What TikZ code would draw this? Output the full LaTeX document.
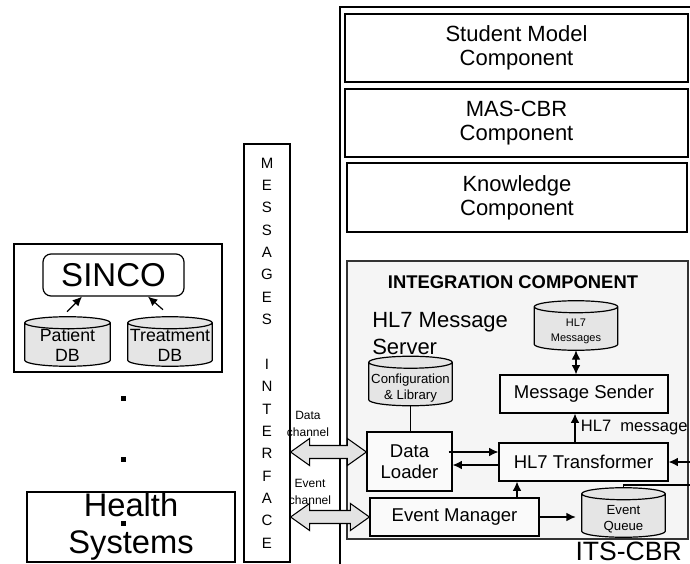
\documentclass[tikz,border=0pt]{standalone}
\usepackage{fontspec}
\setmainfont{Liberation Sans}
\usetikzlibrary{positioning, calc, arrows.meta}

\newcommand{\setfs}[2]{\fontsize{#1}{#2}\selectfont}
% block arrow with two heads between two named points
\newcommand{\chanarrow}[2]{%
  \draw[chanfill] (#1) -- ++(19,-13.5) -- ++(0,7) -- ($(#2)+(-19,-6.5)$) -- ++(0,-7)
    -- (#2) -- ++(-19,13.5) -- ++(0,-7) -- ($(#1)+(19,6.5)$) -- ++(0,7) -- cycle;}
% database drum drawn into the frame of a named node
\newcommand{\dbdraw}[1]{%
  \draw[dbfill] let \p1=($(#1.east)-(#1.west)$) in
     ([yshift=-4.5pt]#1.north west) -- ([yshift=4.5pt]#1.south west)
     arc[start angle=180, end angle=360, x radius=0.5*\x1, y radius=4.5pt]
     -- ([yshift=-4.5pt]#1.north east)
     arc[start angle=0, end angle=180, x radius=0.5*\x1, y radius=4.5pt] -- cycle
     ([yshift=-4.5pt]#1.north west)
     arc[start angle=180, end angle=360, x radius=0.5*\x1, y radius=4.5pt];}

\begin{document}
\begin{tikzpicture}[x=0.75pt, y=-0.75pt,
    plainbox/.style={draw, line width=0.9pt, inner sep=0pt, align=center},
    compbox/.style={plainbox, minimum width=257.25pt, minimum height=51pt, font=\setfs{16.5pt}{18pt}},
    unitbox/.style={plainbox, fill=gray!4, font=\setfs{13.9pt}{15.75pt}},
    dbframe/.style={inner sep=0pt, minimum width=62.25pt, minimum height=36.75pt},
    dbfill/.style={draw, line width=0.9pt, fill=gray!20},
    dbsmall/.style={align=center, inner sep=0pt, font=\setfs{8.25pt}{11.25pt}},
    dbmid/.style={align=center, inner sep=0pt, font=\setfs{9.9pt}{12pt}},
    dbbig/.style={align=center, inner sep=0pt, font=\setfs{13.3pt}{15pt}},
    flowarrow/.style={line width=0.9pt, -{Latex[length=7pt, width=6.5pt]}},
    twoway/.style={line width=0.9pt, {Latex[length=7pt, width=6.5pt]}-{Latex[length=7pt, width=6.5pt]}},
    chanfill/.style={draw, line width=0.8pt, fill=gray!22},
    chanlabel/.style={align=center, inner sep=0pt, font=\setfs{9pt}{12.75pt}},
    dotmark/.style={fill=black, inner sep=0pt, minimum size=3.75pt}]

    \useasboundingbox (0,0) rectangle (690,564);
    \clip (0,0) rectangle (690,564);

    % ITS-CBR frame and its components
    \node[plainbox, minimum width=270pt, minimum height=429.75pt] (its) at (520,293.5) {};
    \node[compbox] (student) at (516.5,48) {Student Model\\Component};
    \node[compbox] (mascbr) at (516.5,123) {MAS-CBR\\Component};
    \node[compbox, minimum width=255pt, minimum height=51.75pt] (knowledge) at (517,197.5) {Knowledge\\Component};
    \node[anchor=base east, inner sep=0pt, font=\setfs{19.9pt}{22pt}] (itslabel) at (682,560) {ITS-CBR};

    % Integration component
    \node[plainbox, draw=black!80, fill=gray!8, minimum width=255.75pt, minimum height=208.5pt] (integ) at (517.5,400) {};
    \node[inner sep=0pt, font=\bfseries\setfs{13.8pt}{16pt}] (integtitle) at (513,282) {INTEGRATION COMPONENT};
    \node[anchor=west, align=left, inner sep=0pt, font=\setfs{16.5pt}{20.25pt}] (server) at (372,333.5) {HL7 Message\\Server};

    \node[dbframe] (hl7db) at (576,325.5) {};
    \dbdraw{hl7db}
    \node[dbsmall] (hl7dbtxt) at ([yshift=-4.5pt]hl7db.center) {HL7\\Messages};
    \node[dbframe] (cfgdb) at (410.5,381) {};
    \dbdraw{cfgdb}
    \node[dbmid] (cfgdbtxt) at ([yshift=-5pt]cfgdb.center) {Configuration\\\& Library};
    \node[dbframe] (queue) at (623.5,512.5) {};
    \dbdraw{queue}
    \node[dbmid] (queuetxt) at ([yshift=-5pt]queue.center) {Event\\Queue};

    \node[unitbox, minimum width=126pt, minimum height=28.5pt] (sender) at (584,394) {Message Sender};
    \node[unitbox, minimum width=63.75pt, minimum height=44.25pt] (loader) at (409.5,461.5) {Data\\Loader};
    \node[unitbox, minimum width=126.75pt, minimum height=28.5pt] (transformer) at (583.5,462) {HL7 Transformer};
    \node[unitbox, minimum width=126.75pt, minimum height=28.5pt] (evmgr) at (454.5,517) {Event Manager};

    % Connections inside the integration component
    \draw[twoway] (hl7db.south) -- (hl7db.south |- sender.north);
    \draw[line width=0.9pt] (cfgdb.south) -- (cfgdb.south |- loader.north);
    \draw[flowarrow] ($(loader.east)+(-4,-9.5)$) -- ($(transformer.west)+(0,-10)$);
    \draw[flowarrow] ($(transformer.west)+(0,3)$) -- ($(loader.east)+(0,3.5)$);
    \draw[flowarrow] ($(transformer.north)+(-8.5,0)$) -- ($(sender.south)+(-9,0)$)
          node[midway, anchor=west, inner sep=0pt, xshift=4pt, font=\setfs{12.4pt}{14pt}] (msglabel) {HL7~ message};
    \draw[flowarrow] ($(evmgr.north)+(62.5,0)$) coordinate (emup) -- (emup |- transformer.south);
    \draw[flowarrow, shorten >=4.5pt] (evmgr.east) -- (evmgr.east -| queue.west);
    \draw[flowarrow] (queue.north) |- (700,485) |- (transformer.east);

    % Messages interface
    \node[plainbox, minimum width=34.5pt, minimum height=313.5pt, font=\setfs{11.25pt}{16.76pt}] (msgif) at (267,353)
          {M\\E\\S\\S\\A\\G\\E\\S\\[16.76pt]I\\N\\T\\E\\R\\F\\A\\C\\E};

    % Data and event channels
    \coordinate (dchA) at ($(msgif.east)+(0,99)$);
    \coordinate (dchB) at ($(loader.west)+(0,-9.5)$);
    \chanarrow{dchA}{dchB}
    \node[chanlabel] (dchlabel) at (308,423.5) {Data\\channel};
    \coordinate (echA) at ($(msgif.east)+(0,164)$);
    \coordinate (echB) at (evmgr.west);
    \chanarrow{echA}{echB}
    \node[chanlabel] (echlabel) at (310,491.5) {Event\\channel};

    % SINCO system
    \node[plainbox, minimum width=156pt, minimum height=96pt] (sincogrp) at (118,308) {};
    \node[plainbox, rounded corners=6pt, minimum width=105.75pt, minimum height=31.5pt, font=\setfs{24.75pt}{26pt}] (sinco) at (113.5,275) {SINCO};
    \node[dbframe, minimum width=63.75pt] (patient) at (67.5,341.5) {};
    \dbdraw{patient}
    \node[dbbig] (patienttxt) at ([yshift=-3pt]patient.center) {Patient\\DB};
    \node[dbframe, minimum width=63pt] (treatment) at (170,341.5) {};
    \dbdraw{treatment}
    \node[dbbig] (treatmenttxt) at ([yshift=-3pt]treatment.center) {Treatment\\DB};
    \draw[flowarrow] ($(patient.north)+(-0.5,-5)$) -- ($(sinco.south)+(-31.5,0)$);
    \draw[flowarrow] ($(treatment.north)+(-7,-7)$) -- ($(sinco.south)+(34.5,0)$);

    % Other health systems
    \node[dotmark] (dotA) at (123,398) {};
    \node[dotmark] (dotB) at (123,459) {};
    \node[plainbox, minimum width=156pt, minimum height=52.5pt,
          label={[align=center, inner sep=0pt, font=\setfs{24.5pt}{27.75pt}]center:Health\\Systems}] (health) at (131,527) {};
    \node[dotmark] (dotC) at (123,523) {};

\end{tikzpicture}
\end{document}
